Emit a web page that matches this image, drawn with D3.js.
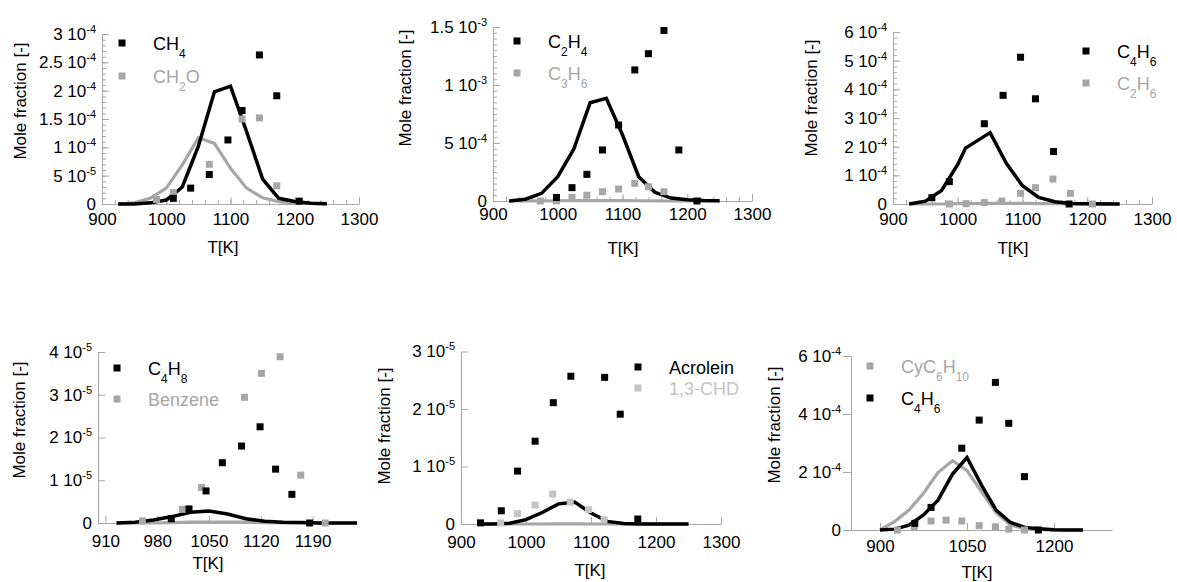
<!DOCTYPE html>
<html>
<head>
<meta charset="utf-8">
<script src="https://cdn.jsdelivr.net/npm/d3@7"></script>
<style>
  body { margin: 0; background: #fff; }
  svg { display: block; font-family: "Liberation Sans", Arial, sans-serif; }
</style>
</head>
<body>
<div id="container"></div>
<script>
"use strict";

// ---- data ----
const modelT = [925, 950, 975, 1000, 1025, 1050, 1075, 1100, 1125, 1150, 1175, 1200, 1225, 1250];

// panel 1: CH4 / CH2O
const ch4ExpT = [1011, 1038, 1067, 1096, 1118, 1145, 1172, 1207];
const ch4Exp = [1.0e-5, 2.8e-5, 5.2e-5, 1.13e-4, 1.65e-4, 2.63e-4, 1.91e-4, 5e-6];
const ch2oExpT = [985, 1011, 1067, 1118, 1145, 1172];
const ch2oExp = [8e-6, 2.0e-5, 7.0e-5, 1.5e-4, 1.52e-4, 3.2e-5];
const ch4Mod = [0, 0, 2e-6, 7e-6, 3.0e-5, 1.02e-4, 1.98e-4, 2.08e-4, 1.28e-4, 4.4e-5, 1.0e-5, 4.5e-6, 1.5e-6, 5e-7];
const ch2oMod = [0, 2e-6, 1.0e-5, 2.8e-5, 6.9e-5, 1.17e-4, 1.07e-4, 6.3e-5, 2.8e-5, 1.1e-5, 4e-6, 2e-6, 1e-6, 0];
const p1YTicks = [0, 5e-5, 1e-4, 1.5e-4, 2e-4, 2.5e-4, 3e-4];

// panel 2: C2H4 / C3H6
const c2h4ExpT = [998, 1022, 1045, 1069, 1094, 1119, 1140, 1164, 1187, 1215];
const c2h4Exp = [3e-5, 1.15e-4, 2.3e-4, 4.4e-4, 6.55e-4, 1.13e-3, 1.27e-3, 1.47e-3, 4.4e-4, 0];
const c3h6ExpT = [973, 998, 1022, 1045, 1069, 1094, 1119, 1140, 1164];
const c3h6Exp = [0, 2e-6, 3e-5, 5e-5, 8e-5, 1.03e-4, 1.52e-4, 1.23e-4, 8e-5];
const c2h4Mod = [0, 1.5e-5, 6.6e-5, 2.1e-4, 4.5e-4, 8.47e-4, 8.85e-4, 5.7e-4, 2.1e-4, 7.5e-5, 2.5e-5, 1e-5, 4e-6, 2e-6];
const c3h6Mod = [0, 0, 1e-6, 2e-6, 3e-6, 4e-6, 4e-6, 3e-6, 2e-6, 1e-6, 0, 0, 0, 0];
const p2YTicks = [0, 5e-4, 1e-3, 1.5e-3];

// panel 3: C4H6 / C2H6
const c4h6ExpT = [960, 987, 1041, 1070, 1097, 1120, 1148, 1172];
const c4h6Exp = [2.2e-5, 7.8e-5, 2.8e-4, 3.79e-4, 5.12e-4, 3.67e-4, 1.83e-4, 0];
const c2h6ExpT = [987, 1013, 1041, 1068, 1097, 1120, 1147, 1174, 1208];
const c2h6Exp = [0, 1e-6, 5e-6, 1e-5, 3.7e-5, 5.7e-5, 8.7e-5, 3.7e-5, 0];
const c4h6ModT = [925, 950, 975, 1000, 1012, 1050, 1075, 1100, 1125, 1150, 1175, 1200, 1250];
const c4h6Mod = [0, 1e-5, 4.7e-5, 1.38e-4, 1.95e-4, 2.49e-4, 1.42e-4, 6.4e-5, 2.3e-5, 8e-6, 2e-6, 1e-6, 0];
const c2h6Mod = [0, 0, 0, 1e-6, 1e-6, 2e-6, 2e-6, 2e-6, 1e-6, 1e-6, 0, 0, 0];
const p3YTicks = [0, 1e-4, 2e-4, 3e-4, 4e-4, 5e-4, 6e-4];

// panel 4: C4H8 / Benzene
const c4h8ExpT = [999, 1023, 1046, 1068, 1094, 1119, 1140, 1162, 1186];
const c4h8Exp = [1e-6, 3.3e-6, 7.5e-6, 1.41e-5, 1.8e-5, 2.25e-5, 1.26e-5, 6.7e-6, 0];
const benzeneExpT = [960, 1014, 1040, 1098, 1121, 1146, 1174, 1207];
const benzeneExp = [5e-7, 3.2e-6, 8.3e-6, 2.94e-5, 3.5e-5, 3.89e-5, 1.12e-5, 0];
const c4h8Mod = [0, 2e-7, 7e-7, 1.5e-6, 2.5e-6, 2.8e-6, 2.1e-6, 1e-6, 4e-7, 1.5e-7, 1e-7, 0, 0, 0];
const benzeneMod = [0, 0, 0, 1e-7, 2e-7, 2e-7, 2e-7, 2e-7, 1e-7, 0, 0, 0, 0, 0];
const p4YTicks = [0, 1e-5, 2e-5, 3e-5, 4e-5];
const p4XTicks = [910, 980, 1050, 1120, 1190];

// panel 5: Acrolein / 1,3-CHD
const acroleinExpT = [930, 962, 987, 1014, 1042, 1069, 1121, 1145, 1172];
const acroleinExp = [2e-7, 2.3e-6, 9.2e-6, 1.44e-5, 2.11e-5, 2.57e-5, 2.55e-5, 1.91e-5, 8.7e-7];
const chdExpT = [961, 987, 1014, 1041, 1068, 1096, 1120];
const chdExp = [2e-7, 1.8e-6, 3.3e-6, 5.2e-6, 3.8e-6, 2.5e-6, 7.5e-7];
const acroleinMod = [0, 0, 1.5e-7, 7.5e-7, 2e-6, 3.5e-6, 3.8e-6, 1.9e-6, 4.5e-7, 1e-7, 0, 0, 0, 0];
const chdMod = [0, 0, 0, 0, 0, 1e-8, 1e-8, 0, 0, 0, 0, 0, 0, 0];
const p5YTicks = [0, 1e-5, 2e-5, 3e-5];

// panel 6: CyC6H10 / C4H6
const modelT6 = [900, 925, 950, 975, 1000, 1025, 1050, 1075, 1100, 1125, 1150, 1175, 1200, 1225, 1250];
const cyc6h10ExpT = [930, 959, 988, 1014, 1041, 1071, 1099, 1122, 1149];
const cyc6h10Exp = [0, 8e-6, 3.1e-5, 3.4e-5, 3.1e-5, 1.5e-5, 1.1e-5, 3e-6, 0];
const c4h6bExpT = [960, 988, 1041, 1071, 1099, 1122, 1149, 1173];
const c4h6bExp = [2.3e-5, 7.8e-5, 2.82e-4, 3.79e-4, 5.09e-4, 3.68e-4, 1.84e-4, 0];
const cyc6h10Mod = [0, 2.9e-5, 6.9e-5, 1.27e-4, 1.98e-4, 2.39e-4, 2.05e-4, 1.32e-4, 6e-5, 1.7e-5, 5e-6, 1e-6, 0, 0, 0];
const c4h6bMod = [0, 3e-6, 1.7e-5, 5.2e-5, 1.03e-4, 1.93e-4, 2.5e-4, 1.55e-4, 6.9e-5, 2.6e-5, 9e-6, 4e-6, 1e-6, 0, 0];
const p6YTicks = [0, 2e-4, 4e-4, 6e-4];
const p6XTicks = [900, 1050, 1200];

const xTicks100 = [900, 1000, 1100, 1200, 1300];

// ---- styling ----
const FONT = '"Liberation Sans", Arial, sans-serif';
const BLACK = "#000";
const GRAY = "#a6a6a6";
const LIGHT = "#c4c4c4";
const AXIS = "#a8a8a8";

const zip = (xs, ys) => xs.map((x, i) => ({ t: x, v: ys[i] }));

const panels = [
  {
    x: [102, 359], y: [204, 34], xDom: [900, 1300], yMax: 3e-4,
    xTicks: xTicks100, xMinor: 20, yTicks: p1YTicks, yMinor: 1e-5, xPad: 9,
    yLabel: [20, 101], tLabel: [223, 247], legendX: 122, legendY: [43, 76],
    series: [
      { name: "CH_4", color: BLACK, exp: zip(ch4ExpT, ch4Exp), mod: zip(modelT, ch4Mod) },
      { name: "CH_2O", color: GRAY, exp: zip(ch2oExpT, ch2oExp), mod: zip(modelT, ch2oMod) },
    ],
  },
  {
    x: [493, 752], y: [201, 27], xDom: [900, 1300], yMax: 1.5e-3,
    xTicks: xTicks100, xMinor: 20, yTicks: p2YTicks, yMinor: 5e-5, xPad: 7,
    yLabel: [405, 88], tLabel: [623, 248], legendX: 517, legendY: [41, 73],
    series: [
      { name: "C_2H_4", color: BLACK, exp: zip(c2h4ExpT, c2h4Exp), mod: zip(modelT, c2h4Mod) },
      { name: "C_3H_6", color: GRAY, exp: zip(c3h6ExpT, c3h6Exp), mod: zip(modelT, c3h6Mod) },
    ],
  },
  {
    x: [893, 1152], y: [204, 32], xDom: [900, 1300], yMax: 6e-4,
    xTicks: xTicks100, xMinor: 20, yTicks: p3YTicks, yMinor: 2e-5, xPad: 9,
    yLabel: [811, 98], tLabel: [1013, 248], legendX: 1086, legendY: [51, 83],
    series: [
      { name: "C_4H_6", color: BLACK, exp: zip(c4h6ExpT, c4h6Exp), mod: zip(c4h6ModT, c4h6Mod) },
      { name: "C_2H_6", color: GRAY, exp: zip(c2h6ExpT, c2h6Exp), mod: zip(c4h6ModT, c2h6Mod) },
    ],
  },
  {
    x: [98, 357], y: [523, 352], xDom: [900, 1250], yMax: 4e-5,
    xTicks: p4XTicks, xMinor: 0, yTicks: p4YTicks, yMinor: 0, xPad: 12,
    yLabel: [19, 420], tLabel: [208, 563], legendX: 117, legendY: [368, 399],
    series: [
      { name: "C_4H_8", color: BLACK, exp: zip(c4h8ExpT, c4h8Exp), mod: zip(modelT, c4h8Mod) },
      { name: "Benzene", color: GRAY, exp: zip(benzeneExpT, benzeneExp), mod: zip(modelT, benzeneMod) },
    ],
  },
  {
    x: [461, 721], y: [524, 351.5], xDom: [900, 1300], yMax: 3e-5,
    xTicks: xTicks100, xMinor: 0, yTicks: p5YTicks, yMinor: 0, xPad: 12,
    yLabel: [384, 426], tLabel: [590, 570], legendX: 638, legendY: [367, 388],
    series: [
      { name: "Acrolein", color: BLACK, exp: zip(acroleinExpT, acroleinExp), mod: zip(modelT, acroleinMod) },
      { name: "1,3-CHD", color: LIGHT, lineColor: GRAY, exp: zip(chdExpT, chdExp), mod: zip(modelT, chdMod) },
    ],
  },
  {
    x: [851, 1112], y: [530, 356], xDom: [850, 1300], yMax: 6e-4,
    xTicks: p6XTicks, xMinor: 0, yTicks: p6YTicks, yMinor: 0, xPad: 10, yOut: true,
    yLabel: [774, 425], tLabel: [977, 572], legendX: 870, legendY: [366, 398],
    series: [
      { name: "CyC_6H_{10}", color: GRAY, exp: zip(cyc6h10ExpT, cyc6h10Exp), mod: zip(modelT6, cyc6h10Mod) },
      { name: "C_4H_6", color: BLACK, exp: zip(c4h6bExpT, c4h6bExp), mod: zip(modelT6, c4h6bMod) },
    ],
  },
];

// ---- helpers ----
// "C_2H_{10}" -> [["C",false],["2",true],["H",false],["10",true]]
function parseSub(str) {
  const parts = [];
  let i = 0;
  while (i < str.length) {
    if (str[i] === "_") {
      let s;
      if (str[i + 1] === "{") {
        const j = str.indexOf("}", i);
        s = str.slice(i + 2, j);
        i = j + 1;
      } else {
        s = str[i + 1];
        i += 2;
      }
      parts.push([s, true]);
    } else {
      let j = i;
      while (j < str.length && str[j] !== "_") j++;
      parts.push([str.slice(i, j), false]);
      i = j;
    }
  }
  return parts;
}

function sciParts(v) {
  if (v === 0) return ["0", null];
  const e = Math.floor(Math.log10(v) + 1e-9);
  const m = +(v / Math.pow(10, e)).toFixed(1);
  return [`${m} 10`, `${e}`];
}

const svg = d3
  .select("#container")
  .append("svg")
  .attr("width", 1177)
  .attr("height", 582);

panels.forEach((p) => {
  const xScale = d3.scaleLinear().domain(p.xDom).range(p.x);
  const yScale = d3.scaleLinear().domain([0, p.yMax]).range(p.y);
  const g = svg.append("g");

  // minor ticks
  if (p.yMinor) {
    g.append("g")
      .attr("transform", `translate(${p.x[0]},0)`)
      .call(
        d3.axisLeft(yScale)
          .tickValues(d3.range(0, p.yMax + p.yMinor / 2, p.yMinor))
          .tickSize(-4)
          .tickFormat("")
      )
      .call((a) => a.select(".domain").remove())
      .call((a) => a.selectAll("line").attr("stroke", AXIS));
  }
  if (p.xMinor) {
    g.append("g")
      .attr("transform", `translate(0,${p.y[0]})`)
      .call(
        d3.axisBottom(xScale)
          .tickValues(d3.range(p.xDom[0], p.xDom[1] + 1, p.xMinor))
          .tickSize(-4)
          .tickFormat("")
      )
      .call((a) => a.select(".domain").remove())
      .call((a) => a.selectAll("line").attr("stroke", AXIS));
  }

  // y axis
  const yAxis = g
    .append("g")
    .attr("transform", `translate(${p.x[0]},0)`)
    .call(
      d3.axisLeft(yScale)
        .tickValues(p.yTicks)
        .tickSize(p.yOut ? 8 : -7)
        .tickSizeOuter(0)
        .tickPadding(p.yOut ? 2 : 6)
    )
    .attr("font-family", FONT)
    .attr("font-size", 17);
  yAxis.select(".domain").attr("stroke", AXIS);
  yAxis.selectAll(".tick line").attr("stroke", AXIS);
  yAxis
    .selectAll(".tick text")
    .attr("fill", "#000")
    .each(function (d) {
      const [main, sup] = sciParts(d);
      const t = d3.select(this).text(null);
      t.append("tspan").text(main);
      if (sup) t.append("tspan").attr("dy", -7).attr("font-size", 11).text(sup);
    });

  // x axis
  const xAxis = g
    .append("g")
    .attr("transform", `translate(0,${p.y[0]})`)
    .call(
      d3.axisBottom(xScale)
        .tickValues(p.xTicks)
        .tickSize(-7)
        .tickSizeOuter(0)
        .tickPadding(p.xPad)
        .tickFormat(d3.format("d"))
    )
    .attr("font-family", FONT)
    .attr("font-size", 17);
  xAxis.select(".domain").attr("stroke", AXIS);
  xAxis.selectAll(".tick line").attr("stroke", AXIS);
  xAxis.selectAll(".tick text").attr("fill", "#000");

  // axis titles
  g.append("text")
    .attr("transform", `translate(${p.yLabel[0]},${p.yLabel[1]}) rotate(-90)`)
    .attr("text-anchor", "middle")
    .attr("dy", "0.35em")
    .attr("font-size", 17)
    .text("Mole fraction [-]");
  g.append("text")
    .attr("x", p.tLabel[0])
    .attr("y", p.tLabel[1])
    .attr("text-anchor", "middle")
    .attr("dy", "0.35em")
    .attr("font-size", 17)
    .text("T[K]");

  // model lines (gray first, black on top)
  const line = d3
    .line()
    .x((d) => xScale(d.t))
    .y((d) => yScale(d.v));
  const ordered = [...p.series].sort((a, b) => (a.color === BLACK) - (b.color === BLACK));
  ordered.forEach((s) => {
    const c = s.lineColor || s.color;
    g.append("path")
      .datum(s.mod)
      .attr("fill", "none")
      .attr("stroke", c)
      .attr("stroke-width", c === BLACK ? 3.5 : 3.2)
      .attr("stroke-linejoin", "miter")
      .attr("d", line);
  });

  // experimental points
  const sz = 7;
  ordered.forEach((s) => {
    g.append("g")
      .selectAll("rect")
      .data(s.exp)
      .enter()
      .append("rect")
      .attr("x", (d) => xScale(d.t) - sz / 2)
      .attr("y", (d) => yScale(d.v) - sz / 2)
      .attr("width", sz)
      .attr("height", sz)
      .attr("fill", s.color);
  });

  // legend
  p.series.forEach((s, i) => {
    const ly = p.legendY[i];
    g.append("rect")
      .attr("x", p.legendX - sz / 2)
      .attr("y", ly - sz / 2)
      .attr("width", sz)
      .attr("height", sz)
      .attr("fill", s.color);
    const txt = g
      .append("text")
      .attr("x", p.legendX + 31)
      .attr("y", ly + 7)
      .attr("font-size", 18)
      .attr("fill", s.color === BLACK ? "#000" : s.color);
    let down = false;
    parseSub(s.name).forEach(([str, sub]) => {
      const ts = txt.append("tspan").text(str);
      if (sub && !down) {
        ts.attr("dy", 8).attr("font-size", 12);
        down = true;
      } else if (!sub && down) {
        ts.attr("dy", -8);
        down = false;
      } else if (sub) {
        ts.attr("font-size", 12);
      }
    });
  });
});
</script>
</body>
</html>
